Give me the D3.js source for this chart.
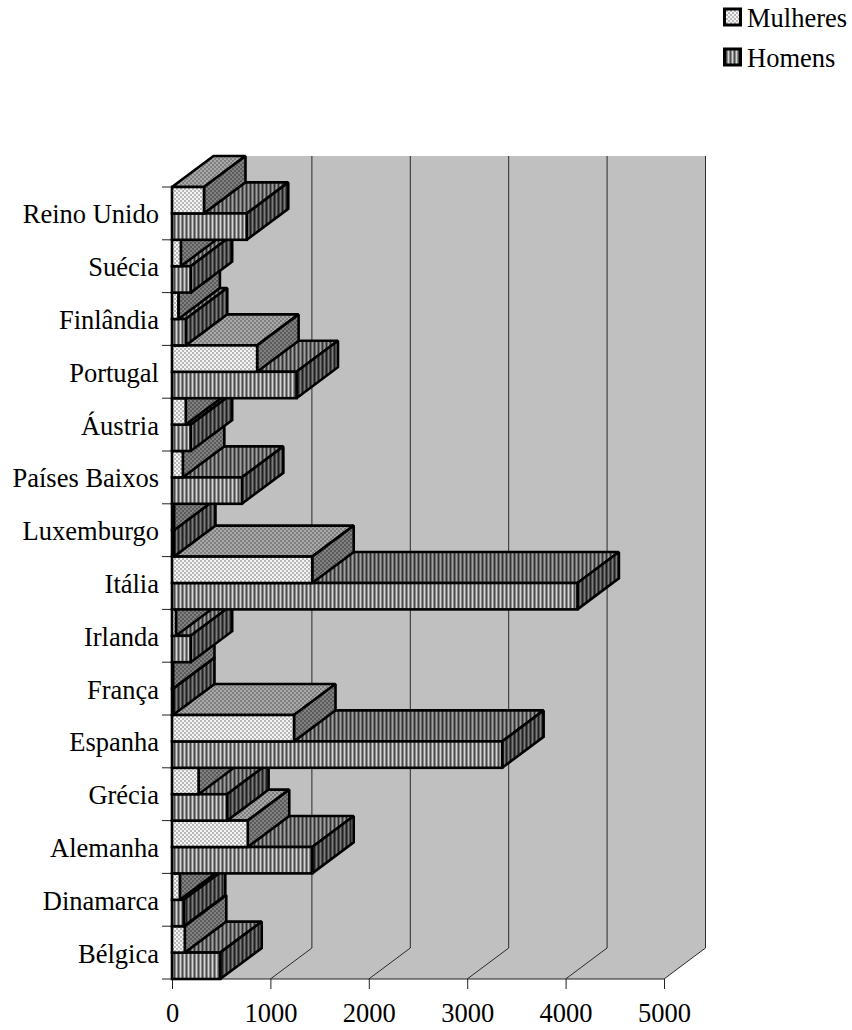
<!DOCTYPE html>
<html><head><meta charset="utf-8">
<script src="https://cdn.jsdelivr.net/npm/d3@7"></script>
<style>html,body{margin:0;padding:0;background:#fff}svg{display:block}text{font-family:"Liberation Serif",serif;font-size:26.5px;fill:#000}</style>
</head><body><svg id="c" width="852" height="1030"></svg>
<script>
const categories=["Bélgica","Dinamarca","Alemanha","Grécia","Espanha","França","Irlanda","Itália","Luxemburgo","Países Baixos","Áustria","Portugal","Finlândia","Suécia","Reino Unido"];
const mulheres=[130,80,770,270,1240,10,40,1425,20,110,140,865,65,90,325];
const homens=[490,120,1425,560,3355,10,190,4120,20,710,190,1265,140,190,760];
const seriesNames=["Mulheres","Homens"];
const xTicks=[0,1000,2000,3000,4000,5000];

const svg=d3.select("#c");
const x=d3.scaleLinear().domain([0,5000]).range([172,664]);
const y=d3.scaleBand().domain(categories).range([979,187]);
const inner=d3.scaleBand().domain(seriesNames).range([0,y.bandwidth()]);
const dx=41.5,dy=-31;
const topY=y.range()[1]+dy, botY=y.range()[0];

const defs=svg.append("defs");
function dots(id,a,b){
  const p=defs.append("pattern").attr("id",id).attr("width",4).attr("height",4).attr("patternUnits","userSpaceOnUse");
  p.append("rect").attr("width",4).attr("height",4).attr("fill",a);
  p.append("rect").attr("width",2).attr("height",2).attr("fill",b);
  p.append("rect").attr("x",2).attr("y",2).attr("width",2).attr("height",2).attr("fill",b);
}
function stripes(id,c){
  const p=defs.append("pattern").attr("id",id).attr("width",c.length).attr("height",4).attr("patternUnits","userSpaceOnUse");
  c.forEach((k,i)=>p.append("rect").attr("x",i).attr("width",1).attr("height",4).attr("fill",k));
}
dots("mF","#f4f4f4","#b8b8b8");
dots("mT","#a8a8a8","#808080");
dots("mS","#808080","#5c5c5c");
stripes("hF",["#d4d4d4","#8c8c8c","#4c4c4c","#8c8c8c"]);
stripes("hT",["#a0a0a0","#6c6c6c","#343434","#6c6c6c"]);
stripes("hS",["#7c7c7c","#4c4c4c","#202020","#4c4c4c"]);

// walls
const wall=d3.line();
svg.append("path").attr("d",wall([[x(0),botY],[x(0)+dx,botY+dy],[x(0)+dx,topY],[x(5000)+dx,topY],[x(5000)+dx,botY+dy],[x(5000),botY]])+"Z").attr("fill","#c0c0c0");
xTicks.forEach(t=>{
  svg.append("path").attr("d",wall([[x(t),botY],[x(t)+dx,botY+dy],[x(t)+dx,topY]])).attr("fill","none").attr("stroke","#2a2a2a").attr("stroke-width",1);
});
// axes
const gx=svg.append("g").attr("transform",`translate(0,${botY})`).call(d3.axisBottom(x).tickValues(xTicks).tickSize(10).tickPadding(14).tickFormat(d3.format("d")));
gx.select(".domain").attr("stroke","#222").attr("d",`M${x(0)},0H${x(5000)}`);
gx.selectAll("line").attr("stroke","#222");
gx.selectAll("text").attr("font-size",null).attr("font-family",null).attr("dy","0.71em");
const gy=svg.append("g").attr("transform",`translate(${x(0)},1.5)`).call(d3.axisLeft(y).tickSize(0).tickPadding(13));
gy.select(".domain").remove();
gy.selectAll("text").attr("font-size",null).attr("font-family",null);
gy.selectAll(".tick").select("line").remove();
const edges=d3.range(categories.length+1).map(i=>botY-i*y.step());
svg.selectAll(".yt").data(edges).join("line").attr("class","yt").attr("x1",x(0)-10).attr("x2",x(0)).attr("y1",d=>d).attr("y2",d=>d).attr("stroke","#222");
svg.append("line").attr("x1",x(0)).attr("x2",x(0)).attr("y1",y.range()[1]).attr("y2",botY).attr("stroke","#000").attr("stroke-width",1);

// bars: upper categories overlap lower ones, women over men
function bar(g,v,y0,h,pre){
  const x0=x(0),x1=x(v),y1=y0+h;
  const st=s=>s.attr("stroke","#000").attr("stroke-width",2.6).attr("stroke-linejoin","miter").attr("stroke-miterlimit",1.5);
  st(g.append("path").attr("d",wall([[x0,y0],[x0+dx,y0+dy],[x1+dx,y0+dy],[x1,y0]])+"Z").attr("fill",`url(#${pre}T)`));
  st(g.append("path").attr("d",wall([[x1,y0],[x1+dx,y0+dy],[x1+dx,y1+dy],[x1,y1]])+"Z").attr("fill",`url(#${pre}S)`));
  st(g.append("rect").attr("x",x0).attr("y",y0).attr("width",x1-x0).attr("height",h).attr("fill",`url(#${pre}F)`));
}
const bars=svg.append("g");
categories.forEach((c,i)=>{
  bar(bars,homens[i],y(c)+inner("Homens"),inner.bandwidth(),"h");
  bar(bars,mulheres[i],y(c)+inner("Mulheres"),inner.bandwidth(),"m");
});

// legend
const legY=d3.scalePoint().domain(seriesNames).range([17,57]);
seriesNames.forEach(n=>{
  const pre=n==="Mulheres"?"m":"h";
  svg.append("rect").attr("x",724.5).attr("y",legY(n)-8).attr("width",16).attr("height",16).attr("fill",`url(#${pre}F)`).attr("stroke","#000").attr("stroke-width",3);
  svg.append("text").attr("x",747).attr("y",legY(n)+9.5).text(n);
});
</script></body></html>
